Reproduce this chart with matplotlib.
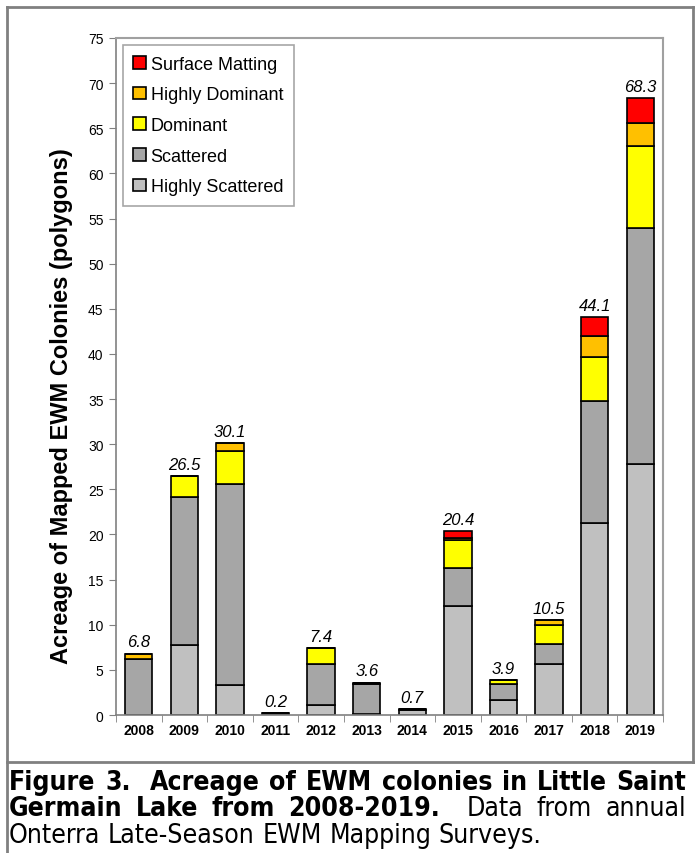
import numpy as np
import matplotlib.pyplot as plt
from matplotlib.lines import Line2D
from matplotlib import font_manager

plt.rcParams['font.family'] = ['Liberation Sans', 'DejaVu Sans']

years = ['2008', '2009', '2010', '2011', '2012', '2013', '2014', '2015', '2016', '2017', '2018', '2019']
highly_scattered = [0.0, 7.7, 3.3, 0.0, 1.1, 0.1, 0.5, 12.1, 1.7, 5.6, 21.3, 27.8]
scattered = [6.2, 16.4, 22.3, 0.2, 4.5, 3.35, 0.2, 4.2, 1.75, 2.3, 13.5, 26.2]
dominant = [0.0, 2.4, 3.6, 0.0, 1.8, 0.15, 0.0, 3.1, 0.45, 2.1, 4.9, 9.0]
highly_dominant = [0.6, 0.0, 0.9, 0.0, 0.0, 0.0, 0.0, 0.2, 0.0, 0.5, 2.3, 2.6]
surface_matting = [0.0, 0.0, 0.0, 0.0, 0.0, 0.0, 0.0, 0.8, 0.0, 0.0, 2.1, 2.7]
totals = [6.8, 26.5, 30.1, 0.2, 7.4, 3.6, 0.7, 20.4, 3.9, 10.5, 44.1, 68.3]

series = [
    ('Highly Scattered', highly_scattered, '#C0C0C0'),
    ('Scattered', scattered, '#A6A6A6'),
    ('Dominant', dominant, '#FFFF00'),
    ('Highly Dominant', highly_dominant, '#FFC000'),
    ('Surface Matting', surface_matting, '#FF0000'),
]

fig = plt.figure(figsize=(6.95, 8.54), dpi=100)
W, H = 695, 854
ax = fig.add_axes([116 / W, 1 - 716 / H, (663 - 116) / W, (716 - 39) / H])

x = np.arange(len(years))
bottom = np.zeros(len(years))
for name, vals, col in series:
    vals = np.array(vals)
    ax.bar(x, vals, 0.6, bottom=bottom, color=col, edgecolor='black', linewidth=1.2, label=name)
    bottom += vals

for xi, t in zip(x, totals):
    ax.annotate(f'{t:.1f}', (xi, t), xytext=(0, 3), textcoords='offset points',
                ha='center', va='bottom', fontsize=12, style='italic')

ax.set_xlim(-0.5, len(years) - 0.5)
ax.set_ylim(0, 75)
ax.set_yticks(np.arange(0, 76, 5))
ax.tick_params(axis='y', direction='out', length=5, color='#808080', labelsize=10, pad=4)
ax.set_xticks(x)
ax.set_xticklabels(years, fontweight='bold', fontsize=10)
ax.tick_params(axis='x', which='major', length=0, pad=6)
ax.set_xticks(np.arange(-0.5, len(years), 1), minor=True)
ax.tick_params(axis='x', which='minor', direction='out', length=5, color='#808080')
for s in ['left', 'bottom']:
    ax.spines[s].set_color('#808080')
    ax.spines[s].set_linewidth(1.2)
for s in ['top', 'right']:
    ax.spines[s].set_color('#A0A0A0')
    ax.spines[s].set_linewidth(1.5)

handles, labels = ax.get_legend_handles_labels()
leg = ax.legend(handles[::-1], labels[::-1], loc='upper left', bbox_to_anchor=(0.012, 0.99),
                fontsize=13, frameon=True, fancybox=False, edgecolor='#909090',
                handlelength=0.7, handleheight=0.7, handletextpad=0.25, labelspacing=0.76,
                borderpad=0.6, borderaxespad=0)
leg.get_frame().set_linewidth(1.2)

fig.text(62 / W, 1 - 406 / H, 'Acreage of Mapped EWM Colonies (polygons)', rotation=90,
         ha='center', va='center', fontsize=17, fontweight='bold')

# outer frame
gray = '#808080'
fig.add_artist(Line2D([7 / W, 7 / W], [0, 1 - 8 / H], color=gray, lw=2))
fig.add_artist(Line2D([7 / W, 693 / W], [1 - 8 / H, 1 - 8 / H], color=gray, lw=2))
fig.add_artist(Line2D([693 / W, 693 / W], [1 - 8 / H, 1 - 763 / H], color=gray, lw=2))
fig.add_artist(Line2D([7 / W, 1], [1 - 763 / H, 1 - 763 / H], color=gray, lw=2))

# caption: look for a condensed sans face, otherwise plain Liberation Sans
cap_font = ['Liberation Sans', 'DejaVu Sans']
cap_stretch = 'normal'
for f in font_manager.fontManager.ttflist:
    if f.stretch in ('condensed', 'semi-condensed') and 'Sans' in f.name and 'Mono' not in f.name:
        cap_font = [f.name, 'DejaVu Sans']
        cap_stretch = f.stretch
        break

caption = [
    ([('Figure 3.|Acreage of EWM colonies in Little Saint', True)], True, 790),
    ([('Germain Lake from 2008-2019.|', True), ('Data from annual', False)], True, 816),
    ([('Onterra Late-Season EWM Mapping Surveys.', False)], False, 843),
]
x0, x1 = 9, 686
renderer = fig.canvas.get_renderer()

# size so that the bold first line fits with normal word spaces
probe = fig.text(0, 0, caption[0][0][0][0].replace('|', '  '), fontsize=20, family=cap_font,
                 fontstretch=cap_stretch, fontweight='bold')
fs = min(20 * (x1 - x0 - 12) / probe.get_window_extent(renderer).width, 21.5)
probe.remove()

probe1 = fig.text(0, 0, 'a b', fontsize=fs, family=cap_font, fontstretch=cap_stretch)
probe2 = fig.text(0, 0, 'ab', fontsize=fs, family=cap_font, fontstretch=cap_stretch)
space = probe1.get_window_extent(renderer).width - probe2.get_window_extent(renderer).width
probe1.remove()
probe2.remove()
for segs, justify, ybase in caption:
    words = []
    for txt, bold in segs:
        for w in txt.replace('|', '| ').split():
            words.append((w, bold))
    arts = []
    weights = []
    for w, bold in words:
        t = fig.text(0, 1 - ybase / H, w.rstrip('|'), fontsize=fs, family=cap_font,
                     fontstretch=cap_stretch, fontweight='bold' if bold else 'normal',
                     ha='left', va='baseline')
        arts.append(t)
        weights.append(2.0 if w.endswith('|') else 1.0)
    widths = [a.get_window_extent(renderer).width for a in arts]
    if justify:
        unit = (x1 - x0 - sum(widths)) / sum(weights[:-1])
    else:
        unit = space
    xp = x0
    for a, w, wt in zip(arts, widths, weights):
        a.set_x(xp / W)
        xp += w + unit * wt

fig.savefig('out.png', dpi=100)
